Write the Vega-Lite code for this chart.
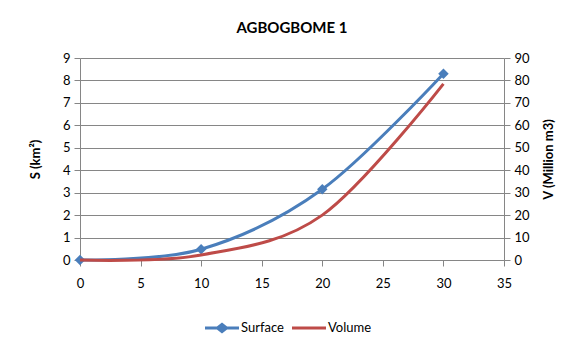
{
  "$schema": "https://vega.github.io/schema/vega-lite/v6.json",
  "autosize": {"type": "none"},
  "width": 424,
  "height": 202,
  "padding": {"left": 80, "top": 58, "right": 77, "bottom": 92},
  "background": "white",
  "title": {"text": "AGBOGBOME 1", "font": "Lato", "fontSize": 15, "fontWeight": "bold", "color": "#000000", "offset": 16, "anchor": "middle"},
  "config": {
    "view": {"stroke": null},
    "font": "Lato",
    "axis": {"labelFont": "Lato", "labelFontSize": 13, "labelColor": "#000000", "titleFont": "Lato", "titleFontSize": 13, "titleColor": "#000000", "titleFontWeight": "bold", "domainColor": "#868686", "tickColor": "#868686", "gridColor": "#868686", "domainWidth": 1, "tickSize": 6, "labelPadding": 4}
  },
  "data": {"values": [
    {"x": 0, "series": "Surface", "value": 0},
    {"x": 10, "series": "Surface", "value": 0.48},
    {"x": 20, "series": "Surface", "value": 3.15},
    {"x": 30, "series": "Surface", "value": 8.3},
    {"x": 0, "series": "Volume", "value": 0},
    {"x": 10, "series": "Volume", "value": 2.2},
    {"x": 20, "series": "Volume", "value": 20},
    {"x": 30, "series": "Volume", "value": 78.5}
  ]},
  "encoding": {
    "x": {"field": "x", "type": "quantitative", "scale": {"domain": [0, 35], "nice": false}, "axis": {"title": null, "values": [0, 5, 10, 15, 20, 25, 30, 35], "grid": false, "labelPadding": 11, "labelFlush": false}},
    "color": {"field": "series", "type": "nominal", "scale": {"domain": ["Surface", "Volume"], "range": ["#4A7EBB", "#BE4B48"]},
      "legend": {"title": null, "orient": "none", "legendX": 125, "legendY": 253, "direction": "horizontal", "labelFont": "Lato", "labelFontSize": 13, "labelColor": "#000000", "symbolSize": 1156, "columnPadding": 8, "labelOffset": 2,
        "encode": {"symbols": {"update": {
          "shape": {"signal": "datum.value === 'Surface' ? 'M-1,-0.09L-0.3,-0.09L0,-0.33L0.3,-0.09L1,-0.09L1,0.09L0.3,0.09L0,0.33L-0.3,0.09L-1,0.09Z' : 'M-1,-0.09L1,-0.09L1,0.09L-1,0.09Z'"},
          "fill": {"signal": "datum.value === 'Surface' ? '#4A7EBB' : '#BE4B48'"},
          "fillOpacity": {"value": 1},
          "strokeWidth": {"value": 0}
        }}}}}
  },
  "layer": [
    {
      "transform": [{"filter": "datum.series === 'Surface'"}],
      "mark": {"type": "line", "interpolate": "cardinal", "strokeWidth": 3, "point": {"shape": "diamond", "filled": true, "size": 110, "opacity": 1}},
      "encoding": {
        "y": {"field": "value", "type": "quantitative", "scale": {"domain": [0, 9], "nice": false}, "axis": {"title": "S (km²)", "orient": "left", "values": [0,1,2,3,4,5,6,7,8,9], "grid": true, "titlePadding": 20}}
      }
    },
    {
      "transform": [{"filter": "datum.series === 'Volume'"}],
      "mark": {"type": "line", "interpolate": "cardinal", "strokeWidth": 3},
      "encoding": {
        "y": {"field": "value", "type": "quantitative", "scale": {"domain": [0, 90], "nice": false}, "axis": {"title": "V (Million  m3)", "orient": "right", "values": [0,10,20,30,40,50,60,70,80,90], "grid": false, "titleAngle": 270, "titleBaseline": "bottom", "titlePadding": 26}}
      }
    }
  ],
  "resolve": {"scale": {"y": "independent"}}
}
